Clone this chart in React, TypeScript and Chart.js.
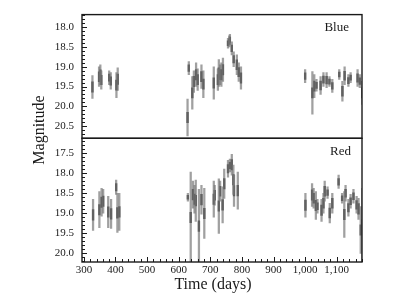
import React, { useEffect, useRef } from "react";
import { Chart, registerables } from "chart.js";

Chart.register(...registerables);

// ---- Data ----
const xTickStep = 100;
const yTickStep = 0.5;

// Blue light curve: day, bright end (low mag) and faint end (high mag) of each error bar
const blueDays = [327, 348, 352, 355, 380, 385, 403, 407, 628, 632, 643, 648, 655, 660, 672, 678, 711, 724, 727, 731, 735, 740, 756, 760, 762, 768, 774, 784, 790, 797, 1000, 1023, 1029, 1036, 1049, 1058, 1068, 1077, 1086, 1108, 1118, 1125, 1137, 1144, 1166, 1173, 1181];
const blueBright = [19.22, 19.0, 18.95, 19.1, 19.1, 19.15, 19.15, 19.03, 19.82, 18.87, 19.25, 19.1, 18.9, 19.05, 18.95, 19.1, 19.0, 19.05, 18.82, 18.95, 18.9, 18.78, 18.28, 18.22, 18.18, 18.37, 18.62, 18.7, 18.9, 19.0, 19.07, 19.12, 19.2, 19.32, 19.25, 19.15, 19.15, 19.25, 19.32, 19.07, 19.37, 19.0, 19.2, 19.15, 19.07, 19.2, 19.37];
const blueFaint = [19.8, 19.5, 19.45, 19.57, 19.45, 19.57, 19.78, 19.6, 20.75, 19.2, 20.07, 19.65, 19.5, 19.6, 19.55, 19.78, 19.82, 19.6, 19.5, 19.45, 19.5, 19.37, 18.53, 18.5, 18.45, 18.7, 19.0, 19.2, 19.37, 19.57, 19.4, 20.2, 19.78, 19.62, 19.7, 19.5, 19.53, 19.5, 19.65, 19.32, 19.87, 19.45, 19.5, 19.4, 19.5, 19.53, 19.95];

// Red light curve
const redDays = [329, 349, 356, 361, 377, 386, 402, 406, 412, 629, 638, 645, 650, 654, 664, 672, 681, 711, 714, 727, 731, 739, 744, 756, 762, 768, 773, 775, 787, 1001, 1022, 1027, 1034, 1039, 1052, 1058, 1062, 1071, 1078, 1086, 1106, 1117, 1124, 1128, 1137, 1144, 1153, 1163, 1169, 1176, 1181];
const redBright = [18.65, 18.46, 18.38, 18.4, 18.58, 18.65, 18.17, 18.5, 18.5, 18.5, 17.97, 18.2, 18.3, 18.17, 18.4, 18.3, 18.38, 18.2, 18.3, 18.14, 18.2, 18.34, 17.9, 17.68, 17.65, 17.53, 17.8, 18.05, 17.97, 18.5, 18.26, 18.38, 18.46, 18.65, 18.65, 18.5, 18.2, 18.34, 18.75, 18.5, 18.05, 18.5, 18.46, 18.3, 18.65, 18.53, 18.4, 18.58, 18.63, 18.83, 18.38];
const redFaint = [19.43, 19.36, 19.07, 19.0, 19.36, 19.38, 18.53, 19.48, 19.43, 18.7, 20.24, 18.87, 19.0, 19.2, 20.24, 19.02, 19.63, 19.1, 18.8, 19.5, 18.7, 19.24, 18.63, 18.1, 17.97, 18.05, 18.53, 18.83, 18.9, 19.1, 18.83, 18.87, 19.15, 19.0, 19.2, 19.0, 18.7, 18.63, 19.24, 19.0, 18.38, 18.75, 19.6, 18.7, 19.07, 18.87, 18.75, 19.0, 19.15, 20.0, 20.2];

const SERIF = "'Liberation Serif', 'DejaVu Serif', serif";
const INK = "#1a1a1a";

function barData(days: number[], lo: number[], hi: number[]) {
  return days.map((d, i) => ({ x: d, y: [lo[i], hi[i]] }));
}
function coreData(days: number[], lo: number[], hi: number[]) {
  return days.map((d, i) => {
    const mid = (lo[i] + hi[i]) / 2;
    const h = Math.min((hi[i] - lo[i]) * 0.25, 0.13);
    return { x: d, y: [mid - h, mid + h] };
  });
}

const framePlugin = {
  id: "frame",
  afterDraw(chart: any) {
    const { ctx, chartArea } = chart;
    const x = chart.scales.x;
    const panels = [chart.scales.yBlue, chart.scales.yRed];
    ctx.save();
    ctx.strokeStyle = INK;
    ctx.lineWidth = 1.4;
    for (const s of panels) {
      ctx.strokeRect(chartArea.left, s.top, chartArea.right - chartArea.left, s.bottom - s.top);
    }
    ctx.lineWidth = 1;
    // inward y ticks
    for (const s of panels) {
      const lo = Math.ceil(Math.min(s.min, s.max) * 10 - 1e-6);
      const hi = Math.floor(Math.max(s.min, s.max) * 10 + 1e-6);
      for (let i = lo; i <= hi; i++) {
        const py = Math.round(s.getPixelForValue(i / 10)) + 0.5;
        const len = i % 5 === 0 ? 5 : 3;
        ctx.beginPath();
        ctx.moveTo(chartArea.left, py);
        ctx.lineTo(chartArea.left + len, py);
        ctx.stroke();
      }
    }
    // inward x ticks
    for (let d = Math.ceil(x.min / 20) * 20; d <= x.max; d += 20) {
      const px = Math.round(x.getPixelForValue(d)) + 0.5;
      const len = d % 100 === 0 ? 5 : 3;
      ctx.beginPath();
      ctx.moveTo(px, chartArea.bottom);
      ctx.lineTo(px, chartArea.bottom - len);
      ctx.stroke();
    }
    // texts
    ctx.fillStyle = INK;
    ctx.font = `13px ${SERIF}`;
    ctx.textAlign = "right";
    ctx.textBaseline = "middle";
    ctx.fillText("Blue", 349, chart.scales.yBlue.top + 13);
    ctx.fillText("Red", 351, chart.scales.yRed.top + 13);
    ctx.font = `16px ${SERIF}`;
    ctx.textAlign = "center";
    ctx.fillText("Time (days)", 213, 285);
    ctx.save();
    ctx.translate(40, 130);
    ctx.rotate(-Math.PI / 2);
    ctx.fillText("Magnitude", 0, 0);
    ctx.restore();
    ctx.restore();
  },
};

export default function App() {
  const ref = useRef<HTMLCanvasElement | null>(null);
  useEffect(() => {
    if (!ref.current) return;
    const tickFont = { family: SERIF, size: 11 };
    const yCommon = (min: number, max: number, weight: number) => ({
      type: "linear" as const,
      position: "left" as const,
      stack: "mag",
      stackWeight: 1,
      weight,
      reverse: true,
      min,
      max,
      grid: { display: false, drawTicks: false },
      border: { display: false },
      ticks: {
        stepSize: yTickStep,
        includeBounds: false,
        autoSkip: false,
        padding: 8,
        font: tickFont,
        color: INK,
        callback: (v: any) => Number(v).toFixed(1),
      },
      afterFit: (s: any) => {
        s.width = 82;
      },
    });
    const light = "rgba(120,120,120,0.7)";
    const dark = "rgba(25,25,25,0.9)";
    const ds = (data: any, axis: string, color: string) => ({
      data,
      yAxisID: axis,
      backgroundColor: color,
      borderWidth: 0,
      barThickness: 1.6,
      grouped: false,
    });
    const chart = new Chart(ref.current, {
      type: "bar",
      data: {
        datasets: [
          ds(barData(blueDays, blueBright, blueFaint), "yBlue", light),
          ds(coreData(blueDays, blueBright, blueFaint), "yBlue", dark),
          ds(barData(redDays, redBright, redFaint), "yRed", light),
          ds(coreData(redDays, redBright, redFaint), "yRed", dark),
        ] as any,
      },
      options: {
        animation: false,
        responsive: false,
        layout: { padding: { left: 0, right: 38, top: 9, bottom: 0 } },
        plugins: { legend: { display: false }, tooltip: { enabled: false } },
        scales: {
          x: {
            type: "linear",
            position: "bottom",
            min: 294,
            max: 1180,
            offset: false,
            grid: { display: false, drawTicks: false },
            border: { display: false },
            ticks: {
              stepSize: xTickStep,
              includeBounds: false,
              padding: 2,
              autoSkip: false,
              maxRotation: 0,
              font: tickFont,
              color: INK,
              callback: (v: any) => Number(v).toLocaleString("en-US"),
            },
            afterFit: (s: any) => {
              s.height = 38;
            },
          },
          yBlue: yCommon(17.68, 20.81, 1),
          yRed: yCommon(17.13, 20.215, 0),
        } as any,
      },
      plugins: [framePlugin],
    });
    return () => chart.destroy();
  }, []);
  return (
    <div style={{ position: "absolute", left: 0, top: 0, width: 400, height: 300, background: "#fff" }}>
      <canvas ref={ref} width={400} height={300} />
    </div>
  );
}
